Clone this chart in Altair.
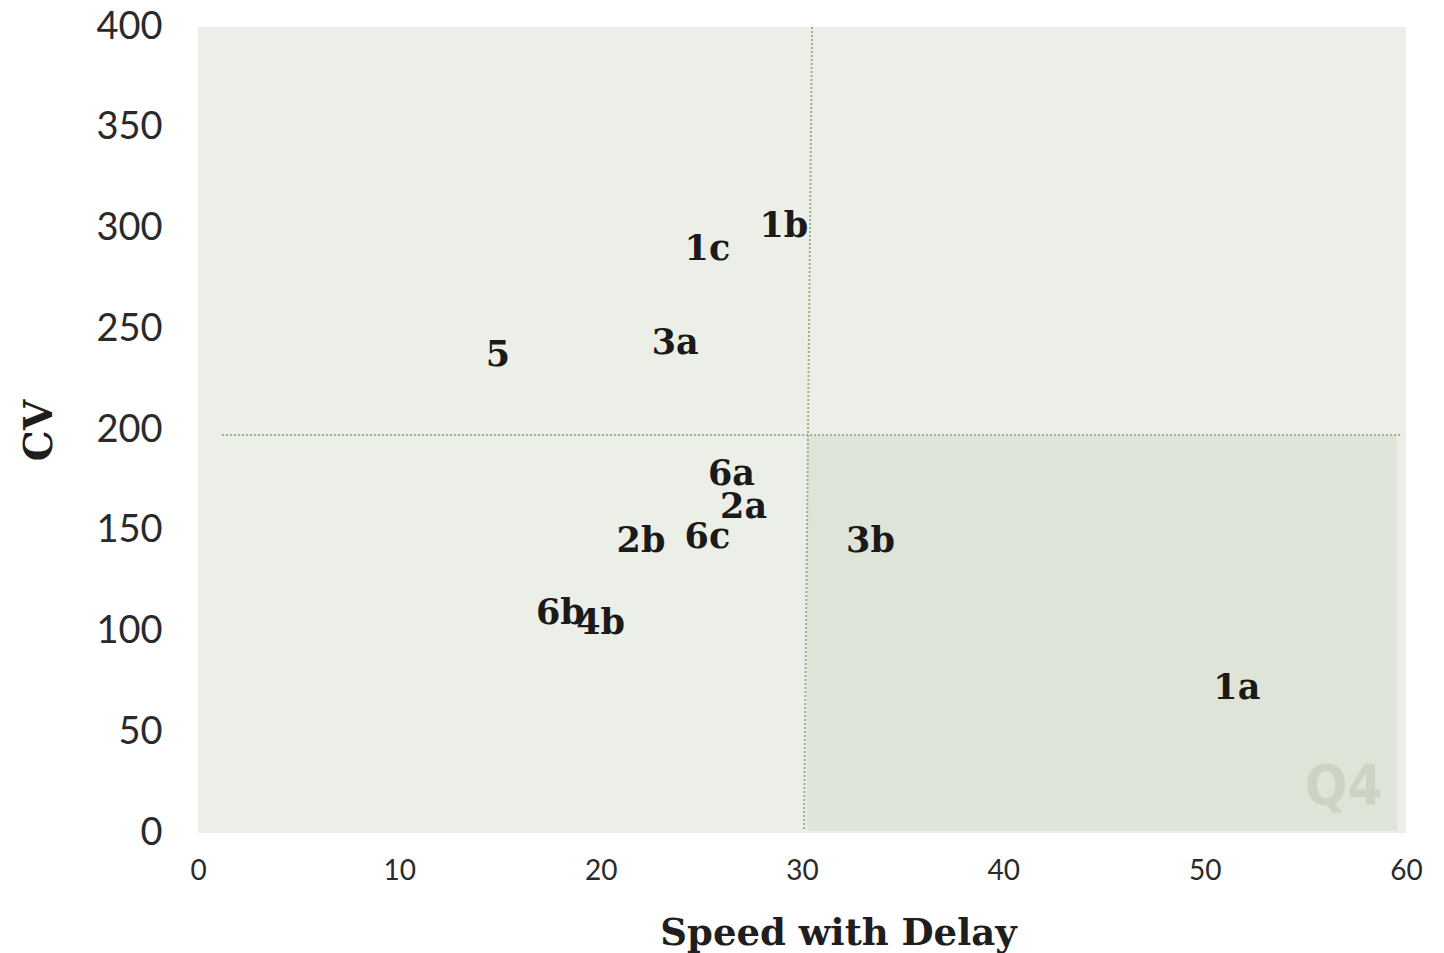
import altair as alt
import pandas as pd

labels = ["1a", "1b", "1c", "2a", "2b", "3a", "3b", "4b", "5", "6a", "6b", "6c"]
speed = [51.6, 29.1, 25.3, 27.1, 22.0, 23.7, 33.4, 20.0, 14.9, 26.5, 18.0, 25.3]
cv = [72, 301, 290, 162, 145, 243, 145, 104, 237, 178, 109, 147]

x_ticks = [0, 10, 20, 30, 40, 50, 60]
y_ticks = [0, 50, 100, 150, 200, 250, 300, 350, 400]

df = pd.DataFrame({"label": labels, "speed": speed, "cv": cv})

q4 = pd.DataFrame({"x": [30.25], "x2": [59.55], "y": [197], "y2": [1], "t": ["Q4"], "tx": [56.9], "ty": [23]})
vline = pd.DataFrame({"x": [30.5], "x2": [30.1], "y": [400], "y2": [1]})
hline = pd.DataFrame({"x": [1.2], "x2": [59.8], "y": [197.5], "y2": [197.5]})

xs = alt.Scale(domain=[0, 60], nice=False, zero=False)
ys = alt.Scale(domain=[0, 400], nice=False, zero=False)

xax = alt.Axis(values=x_ticks, title="Speed with Delay", grid=False, domain=False, ticks=False,
               labelFont="Lato", labelFontSize=28, labelColor="#2a2a2a", labelPadding=24,
               labelFlush=False,
               titleFont="DejaVu Serif", titleFontSize=37, titleFontWeight="bold", titleColor="#1e1e1e",
               titleX=640, titleY=111, titleBaseline="alphabetic")
yax = alt.Axis(values=y_ticks, title="CV", grid=False, domain=False, ticks=False,
               labelFont="Lato", labelFontSize=38, labelColor="#2a2a2a", labelPadding=36,
               labelFlush=False,
               titleFont="DejaVu Serif", titleFontSize=39, titleFontWeight="bold", titleColor="#1e1e1e",
               titlePadding=36)

rect = alt.Chart(q4).mark_rect(color="#DFE4D9").encode(
    x=alt.X("x:Q", scale=xs, axis=xax), x2="x2:Q",
    y=alt.Y("y:Q", scale=ys, axis=yax), y2="y2:Q")

q4text = alt.Chart(q4).mark_text(font="Liberation Sans Narrow, DejaVu Sans Condensed, sans-serif",
                                  fontWeight="bold", fontSize=56,
                                  color="#CCD5C3", align="center", baseline="middle").encode(
    x=alt.X("tx:Q", scale=xs), y=alt.Y("ty:Q", scale=ys), text="t:N")

vrule = alt.Chart(vline).mark_rule(color="#9DB08A", strokeWidth=2, strokeDash=[2, 2]).encode(
    x=alt.X("x:Q", scale=xs), x2="x2:Q", y=alt.Y("y:Q", scale=ys), y2="y2:Q")
hrule = alt.Chart(hline).mark_rule(color="#9DB08A", strokeWidth=2, strokeDash=[2, 2]).encode(
    x=alt.X("x:Q", scale=xs), x2="x2:Q", y=alt.Y("y:Q", scale=ys), y2="y2:Q")

pts = alt.Chart(df).mark_text(font="DejaVu Serif", fontWeight="bold", fontSize=35,
                              color="#1a1a1a", align="center", baseline="middle").encode(
    x=alt.X("speed:Q", scale=xs), y=alt.Y("cv:Q", scale=ys), text="label:N")

chart = alt.layer(rect, q4text, vrule, hrule, pts).properties(
    width=1208, height=806,
    autosize=alt.AutoSizeParams(type="none"),
    padding={"left": 190, "top": 19, "right": 30, "bottom": 120},
).configure(background="white").configure_view(fill="#ECEEE8", strokeWidth=0, stroke="transparent")

chart.save("out.html", embed_options={"renderer": "svg", "actions": False})
